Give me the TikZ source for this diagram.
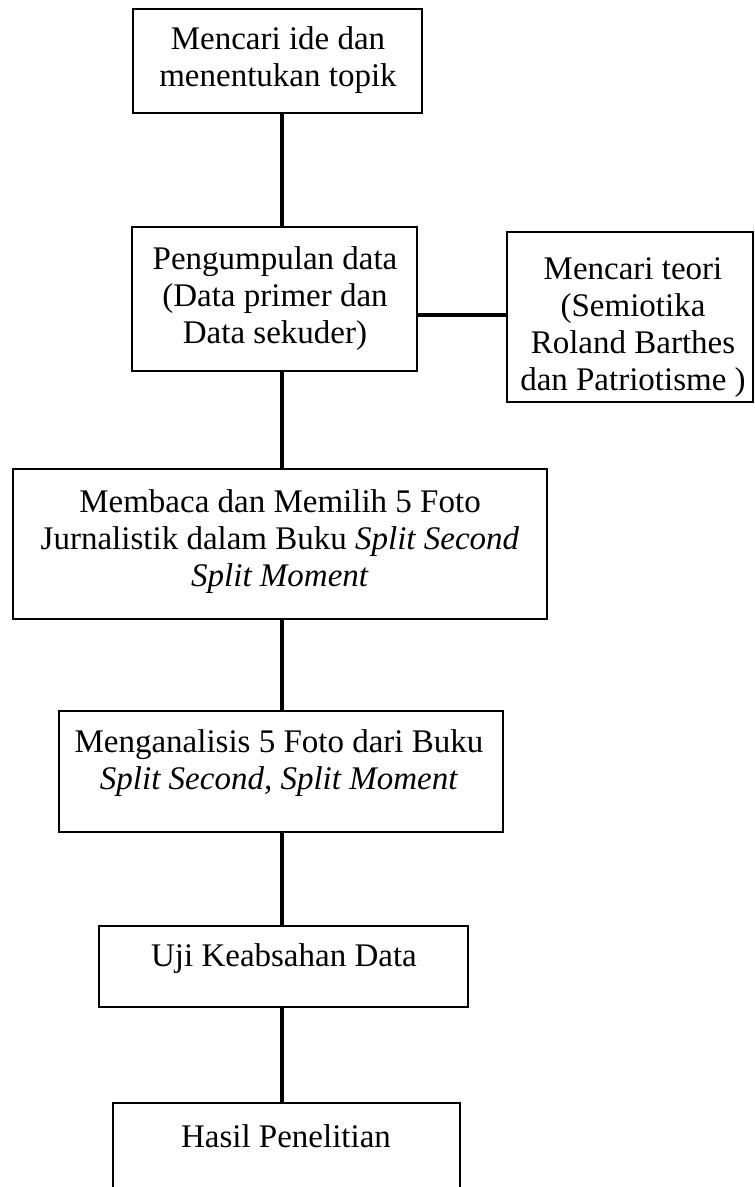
\documentclass[tikz,border=0pt]{standalone}
\usepackage{fontspec}
\setmainfont{Liberation Serif}
\tikzset{
  boxshape/.style={draw=black, line width=2.5pt, inner sep=0pt, outer sep=0pt, fill=none},
  boxtext/.style={anchor=base, inner sep=0pt},
  conn/.style={draw=black, line width=4pt}
}
\newcommand{\boxlines}[2]{\parbox[t]{#1}{\centering\fontsize{33}{37}\selectfont #2}}
\begin{document}
\begin{tikzpicture}[x=1pt, y=-1pt]
\useasboundingbox (0,0) rectangle (755,1187);
\clip (0,0) rectangle (755,1187);
\fill[white] (0,0) rectangle (755,1187);
\coordinate (spine) at (282,0);
\coordinate (hy) at (0,315);
% boxes
\node[boxshape, minimum width=289pt, minimum height=104pt] (b1) at (277.5,61) {};
\node[boxshape, minimum width=285pt, minimum height=144pt] (b2) at (274.5,299) {};
\node[boxshape, minimum width=246pt, minimum height=170pt] (b3) at (630,317) {};
\node[boxshape, minimum width=534pt, minimum height=150pt] (b4) at (280,544) {};
\node[boxshape, minimum width=444pt, minimum height=121pt] (b5) at (281,771.5) {};
\node[boxshape, minimum width=369pt, minimum height=81pt] (b6) at (283.5,966.5) {};
\node[boxshape, minimum width=347pt, minimum height=160pt] (b7) at (286.5,1183) {};
% texts
\node[boxtext] (t1) at (278,49) {\boxlines{300pt}{Mencari ide dan\\menentukan topik}};
\node[boxtext] (t2) at (275,269) {\boxlines{300pt}{Pengumpulan data\\(Data primer dan\\Data sekuder)}};
\node[boxtext] (t3) at (633,279) {\boxlines{260pt}{Mencari teori\\(Semiotika\\Roland Barthes\\dan Patriotisme )}};
\node[boxtext] (t4) at (280,512) {\boxlines{540pt}{Membaca dan Memilih 5 Foto\\Jurnalistik dalam Buku \textit{Split Second}\\\textit{Split Moment}}};
\node[boxtext] (t5) at (279,752) {\boxlines{440pt}{Menganalisis 5 Foto dari Buku\\\textit{Split Second, Split Moment}}};
\node[boxtext] (t6) at (284,966) {\boxlines{360pt}{Uji Keabsahan Data}};
\node[boxtext] (t7) at (286,1147) {\boxlines{340pt}{Hasil Penelitian}};
% connectors
\draw[conn] (b1.south -| spine) -- (b2.north -| spine);
\draw[conn] (b2.east |- hy) -- (b3.west |- hy);
\draw[conn] (b2.south -| spine) -- (b4.north -| spine);
\draw[conn] (b4.south -| spine) -- (b5.north -| spine);
\draw[conn] (b5.south -| spine) -- (b6.north -| spine);
\draw[conn] (b6.south -| spine) -- (b7.north -| spine);
\end{tikzpicture}
\end{document}
